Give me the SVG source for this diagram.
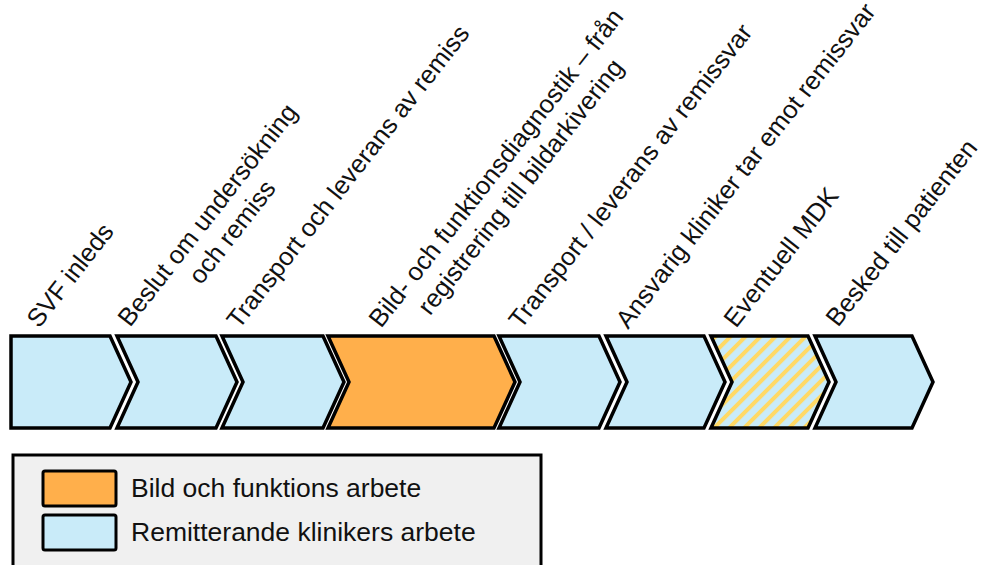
<svg xmlns="http://www.w3.org/2000/svg" width="984" height="565" viewBox="0 0 984 565">
<style>
.chev{stroke:#000;stroke-width:3.5;stroke-linejoin:miter}
.blue{fill:#C9EBF9}
.orange{fill:#FFAF4B}
.hatch{fill:url(#hatch)}
.lbl{font-family:"Liberation Sans",Arial,sans-serif;font-size:25.5px;fill:#111}
.leg{font-family:"Liberation Sans",Arial,sans-serif;font-size:26.5px;fill:#111}
</style>
<defs>
<pattern id="hatch" patternUnits="userSpaceOnUse" width="10.6" height="10.6" patternTransform="rotate(45)">
<rect width="10.6" height="10.6" fill="#C9EBF9"/>
<rect width="4" height="10.6" fill="#FFD966"/>
</pattern>
</defs>
<rect width="984" height="565" fill="#fff"/>
<g id="step1">
<path class="chev blue" d="M11,336 H110 L131,382 L110,428 H11 Z"/>
<text class="lbl" transform="translate(39,329) rotate(-52)">SVF inleds</text>
</g>
<g id="step2">
<path class="chev blue" d="M117,336 H216 L237,382 L216,428 H117 L138,382 Z"/>
<g transform="translate(130,328) rotate(-52)">
<text class="lbl" x="0" y="0">Beslut om undersökning</text>
<text class="lbl" x="77" y="30">och remiss</text>
</g>
</g>
<g id="step3">
<path class="chev blue" d="M222,336 H323 L344,382 L323,428 H222 L243,382 Z"/>
<text class="lbl" transform="translate(239,330) rotate(-52)">Transport och leverans av remiss</text>
</g>
<g id="step4">
<path class="chev orange" d="M328,336 H494 L515,382 L494,428 H328 L349,382 Z"/>
<g transform="translate(381,329) rotate(-52)">
<text class="lbl" x="0" y="0">Bild- och funktionsdiagnostik – från</text>
<text class="lbl" x="40" y="31">registrering till bildarkivering</text>
</g>
</g>
<g id="step5">
<path class="chev blue" d="M499,336 H599 L620,382 L599,428 H499 L520,382 Z"/>
<text class="lbl" transform="translate(521,330) rotate(-52)">Transport / leverans av remissvar</text>
</g>
<g id="step6">
<path class="chev blue" d="M606,336 H704 L725,382 L704,428 H606 L627,382 Z"/>
<text class="lbl" transform="translate(628,330) rotate(-52)">Ansvarig kliniker tar emot remissvar</text>
</g>
<g id="step7">
<path class="chev hatch" d="M711,336 H808 L829,382 L808,428 H711 L732,382 Z"/>
<text class="lbl" transform="translate(736,329) rotate(-52)">Eventuell MDK</text>
</g>
<g id="step8">
<path class="chev blue" d="M815,336 H912 L933,382 L912,428 H815 L836,382 Z"/>
<text class="lbl" transform="translate(838,328) rotate(-52)">Besked till patienten</text>
</g>
<g id="connectors"></g>
<g id="legend">
<rect x="13" y="455" width="528" height="125" fill="#F0F0F0" stroke="#000" stroke-width="3"/>
<rect x="43" y="471" width="73" height="35" rx="2" fill="#FFAF4B" stroke="#000" stroke-width="3"/>
<rect x="43" y="515" width="73" height="35" rx="2" fill="#C9EBF9" stroke="#000" stroke-width="3"/>
<text class="leg" x="131" y="497">Bild och funktions arbete</text>
<text class="leg" x="131" y="541">Remitterande klinikers arbete</text>
</g>
</svg>
